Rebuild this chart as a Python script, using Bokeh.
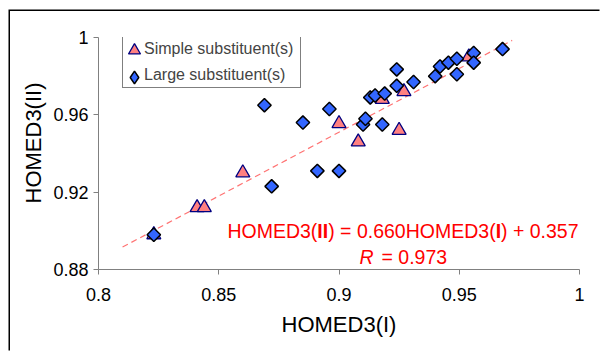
import math
from bokeh.plotting import figure
from bokeh.models import Label, Legend, LegendItem, FixedTicker, Title
from bokeh.embed import file_html
from bokeh.resources import INLINE

# ---- data ----
simple_x = [0.823, 0.841, 0.844, 0.860, 0.900, 0.908, 0.918, 0.925, 0.927, 0.954]
simple_y = [0.898, 0.912, 0.912, 0.930, 0.9555, 0.946, 0.968, 0.952, 0.972, 0.990]

large_x = [0.823, 0.869, 0.872, 0.885, 0.891, 0.896, 0.900, 0.910, 0.911, 0.913,
           0.915, 0.918, 0.919, 0.924, 0.924, 0.931, 0.940, 0.942, 0.9455, 0.949,
           0.949, 0.956, 0.956, 0.968]
large_y = [0.898, 0.965, 0.923, 0.956, 0.931, 0.963, 0.931, 0.955, 0.958, 0.969,
           0.970, 0.955, 0.971, 0.9835, 0.975, 0.977, 0.980, 0.985, 0.987, 0.981,
           0.989, 0.992, 0.987, 0.994]

slope = 0.660
intercept = 0.357
fit_x = [0.81, 0.972]

x_ticks = [0.8, 0.85, 0.9, 0.95, 1.0]
x_tick_labels = ["0.8", "0.85", "0.9", "0.95", "1"]
y_ticks = [0.88, 0.92, 0.96, 1.0]
y_tick_labels = ["0.88", "0.92", "0.96", "1"]

series_names = ["Simple substituent(s)", "Large substituent(s)"]

# ---- layout constants (page pixels) ----
W, H = 601, 352
OX, OY = 10, 11            # chart-area (outer border) origin on the page
FL, FR, FT, FB = 98, 579, 37, 269
FONT = "Liberation Sans"

p = figure(width=W - OX, height=H - OY, x_range=(0.8, 1.0), y_range=(0.88, 1.0),
           output_backend="svg", toolbar_location=None,
           min_border_left=FL - OX, min_border_right=W - FR,
           min_border_top=FT - OY, min_border_bottom=H - FB)
p.styles = {"position": "relative", "left": f"{OX}px", "top": f"{OY}px",
            "box-shadow": "-1.5px -1.5px 0px 0px black"}
p.outline_line_color = None
p.xgrid.visible = False
p.ygrid.visible = False
p.background_fill_color = "white"
p.border_fill_color = "white"

for ax, ticks, labels in ((p.xaxis[0], x_ticks, x_tick_labels),
                          (p.yaxis[0], y_ticks, y_tick_labels)):
    ax.ticker = FixedTicker(ticks=ticks)
    ax.major_label_overrides = {t: l for t, l in zip(ticks, labels)}
    ax.axis_line_color = "#808080"
    ax.major_tick_line_color = "#808080"
    ax.minor_tick_line_color = None
    ax.major_tick_in = 0
    ax.major_tick_out = 5
    ax.major_label_text_font = FONT
    ax.major_label_text_font_size = "18px"
    ax.major_label_text_color = "black"
p.xaxis.major_label_standoff = 13
p.yaxis.major_label_standoff = 5

# x axis title
p.xaxis.axis_label = "HOMED3(I)"
p.xaxis.axis_label_text_font = FONT
p.xaxis.axis_label_text_font_size = "22px"
p.xaxis.axis_label_text_font_style = "normal"
p.xaxis.axis_label_text_color = "black"
p.xaxis.axis_label_standoff = 8

# y axis title as a side title (lets it be placed along the axis)
ytitle = Title(text="HOMED3(II)", align="right", offset=45, standoff=10,
               text_font=FONT, text_font_size="22px", text_font_style="normal",
               text_color="black")
p.add_layout(ytitle, "left")

# trend line
fit_y = [slope * v + intercept for v in fit_x]
p.line(fit_x, fit_y, line_color="#FF7373", line_dash="6 4", line_width=1.2)

tri = p.scatter(simple_x, simple_y, marker="triangle", size=14,
                fill_color="#FF8080", line_color="#000080", line_width=1.3)
dia = p.scatter(large_x, large_y, marker="square", angle=math.pi / 4, size=9.5,
                fill_color="#3366FF", line_color="black", line_width=1.5)
blank = p.scatter(x=[], y=[], marker="circle", fill_alpha=0, line_alpha=0)
# legend swatch for the diamonds (legend symbols are drawn unrotated);
# it is hidden in the plot itself and only used by the legend
dia_key = p.scatter(large_x, large_y, marker="diamond", fill_color="#3366FF",
                    line_color="black", line_width=1.5, visible=False)

# legend box with the two labels
legend = Legend(items=[LegendItem(label=series_names[0], renderers=[blank]),
                       LegendItem(label=series_names[1], renderers=[blank])],
                location=(24, 181))
legend.label_text_font = FONT
legend.label_text_font_size = "16px"
legend.label_height = 20
legend.label_width = 154
legend.glyph_height = 20
legend.glyph_width = 12
legend.label_standoff = 5
legend.spacing = 6
legend.padding = dict(left=4, right=2, top=3, bottom=2)
legend.margin = 0
legend.border_line_color = "black"
legend.border_line_width = 1
legend.background_fill_alpha = 1
p.add_layout(legend)


def symbol_legend(renderer, box, loc):
    lg = Legend(items=[LegendItem(label=" ", renderers=[renderer])], location=loc)
    lg.label_text_font_size = "1px"
    lg.label_height = box
    lg.label_width = 0
    lg.glyph_height = box
    lg.glyph_width = box
    lg.label_standoff = 0
    lg.spacing = 0
    lg.padding = 0
    lg.margin = 0
    lg.border_line_color = None
    lg.background_fill_alpha = 0
    lg.inactive_fill_alpha = 0
    p.add_layout(lg)


symbol_legend(tri, 30, (21, 204))       # triangle symbol, row 1
symbol_legend(dia_key, 32, (20, 176))   # diamond symbol, row 2

# ---- equation with mixed styles ----
ADV = {"H": 722, "O": 778, "M": 833, "E": 667, "D": 722, "3": 556, "(": 333,
       ")": 333, "I": 278, " ": 278, "=": 584, "0": 556, ".": 278, "6": 556,
       "+": 584, "5": 556, "7": 556, "9": 556, "R": 722}


def width(txt, size):
    return sum(ADV[c] for c in txt) * size / 1000.0


def label(txt, style, cx, cy, size, color):
    p.add_layout(Label(x=0.8, y=0.88, x_offset=cx - FL, y_offset=FB - cy,
                       text=txt, text_font=FONT, text_font_size=f"{size}px",
                       text_font_style=style, text_color=color,
                       text_align="left", text_baseline="alphabetic"))


EQ_SIZE = 19.5
eq = [("HOMED3(", "normal"), ("II", "bold"), (") = 0.660HOMED3(", "normal"),
      ("I", "bold"), (") + 0.357", "normal")]
tot = sum(width(t, EQ_SIZE) for t, _ in eq)
cx = 402.5 - tot / 2
for t, s in eq:
    label(t, s, cx, 230, EQ_SIZE, "#FF0000")
    cx += width(t, EQ_SIZE)
label("R", "italic", 359, 256, EQ_SIZE, "#FF0000")
label("= 0.973", "normal", 381, 256, EQ_SIZE, "#FF0000")

open("out.html", "w").write(file_html(p, INLINE))
